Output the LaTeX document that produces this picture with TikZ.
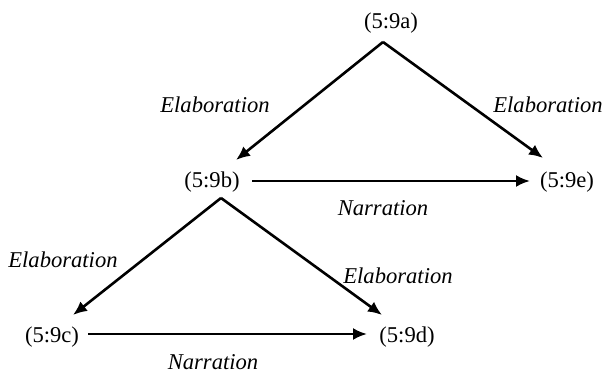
\documentclass[tikz,border=0pt]{standalone}
\usepackage{fontspec}
\setmainfont{Liberation Serif}
\usetikzlibrary{arrows.meta,calc}
\tikzset{
  lbl/.style={inner sep=0pt, font=\fontsize{11.3}{13}\selectfont},
  rel/.style={inner sep=0pt, font=\fontsize{11.3}{13}\selectfont\itshape},
  arr/.style={line width=1.3pt, -{Latex[length=7pt,width=6pt]}}
}
\begin{document}
\begin{tikzpicture}[x=0.5pt,y=-0.5pt]
\useasboundingbox (0,0) rectangle (603,373);
\node[lbl] (a) at (391,23) {(5:9a)};
\node[lbl] (b) at (212,182) {(5:9b)};
\node[lbl] (e) at (567,182) {(5:9e)};
\node[lbl] (c) at (52,337) {(5:9c)};
\node[lbl] (d) at (407,337) {(5:9d)};
\node[rel] (l1) at (215,105) {Elaboration};
\node[rel] (l2) at (548,105) {Elaboration};
\node[rel] (l3) at (383,208) {Narration};
\node[rel] (l4) at (63,260) {Elaboration};
\node[rel] (l5) at (398,276) {Elaboration};
\node[rel] (l6) at (213,362) {Narration};
\draw[arr] ($(a)+(-8,19)$) -- ($(b)+(24,-22)$);
\draw[arr] ($(a)+(-8,19)$) -- ($(e)+(-24,-24)$);
\draw[arr] ($(b)+(40,-1)$) -- ($(e)+(-37,-1)$);
\draw[arr] ($(b)+(9,16)$) -- ($(c)+(21,-22)$);
\draw[arr] ($(b)+(9,16)$) -- ($(d)+(-25,-22)$);
\draw[arr] ($(c)+(36,-3)$) -- ($(d)+(-40,-3)$);
\end{tikzpicture}
\end{document}
